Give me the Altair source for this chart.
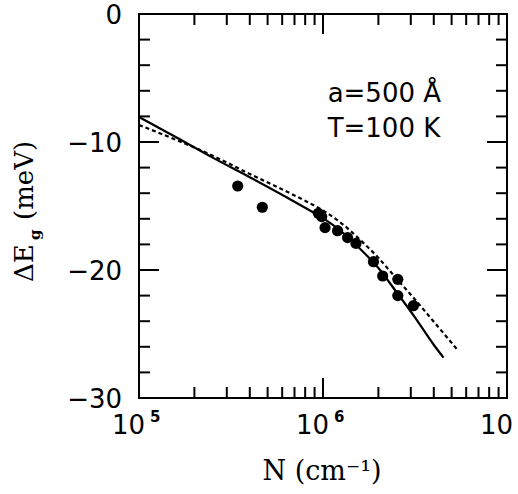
import altair as alt
import pandas as pd

# ---- data ----
N_solid = [1.0e5, 1.6e5, 2.5e5, 4.0e5, 6.3e5, 7.9e5, 1.0e6, 1.26e6, 1.58e6, 2.0e6, 2.5e6, 3.16e6, 3.98e6, 4.52e6]
E_solid = [-8.05, -9.65, -11.2, -12.75, -14.3, -15.1, -15.95, -17.0, -18.3, -19.85, -21.7, -23.7, -25.8, -26.85]

N_dash = [1.0e5, 1.6e5, 2.5e5, 4.0e5, 6.3e5, 7.9e5, 1.0e6, 1.26e6, 1.58e6, 2.0e6, 2.5e6, 3.16e6, 3.98e6, 5.32e6]
E_dash = [-8.67, -9.85, -11.05, -12.5, -13.85, -14.55, -15.35, -16.35, -17.6, -19.05, -20.65, -22.3, -24.0, -26.15]

N_pts = [3.44e5, 4.68e5, 9.43e5, 9.84e5, 1.026e6, 1.20e6, 1.36e6, 1.51e6, 1.88e6, 2.11e6, 2.55e6, 2.55e6, 3.10e6]
E_pts = [-13.44, -15.1, -15.57, -15.83, -16.69, -16.93, -17.47, -17.92, -19.35, -20.47, -20.73, -22.0, -22.79]

y_major = [-30, -20, -10, 0]
y_major_labels = ["\u221230", "\u221220", "\u221210", "0"]
y_minor = [-28, -26, -24, -22, -18, -16, -14, -12, -8, -6, -4, -2]
x_major = [1e5, 1e6, 1e7]
x_major_base = ["10", "10", "10"]
x_exp_N = [1e5, 1e6]
x_exp = ["5", "6"]
x_minor = [2e5, 3e5, 4e5, 5e5, 6e5, 7e5, 8e5, 9e5, 2e6, 3e6, 4e6, 5e6, 6e6, 7e6, 8e6, 9e6]

annot_N = [1.06e6, 1.06e6]
annot_E = [-6.85, -9.6]
annot_text = ["a=500 \u00c5", "T=100 K"]

x_title = "N (cm\u207b\u00b9)"

W, H = 368, 384

xs = alt.Scale(type="log", domain=[1e5, 1e7])
ys = alt.Scale(domain=[-30, 0])


def X(f="N"):
    return alt.X(f"{f}:Q", scale=xs, axis=None)


def Y(f="E"):
    return alt.Y(f"{f}:Q", scale=ys, axis=None)


df_solid = pd.DataFrame({"N": N_solid, "E": E_solid})
df_dash = pd.DataFrame({"N": N_dash, "E": E_dash})
df_pts = pd.DataFrame({"N": N_pts, "E": E_pts})
df_ymaj = pd.DataFrame({"E": y_major, "lab": y_major_labels})
df_ymin = pd.DataFrame({"E": y_minor})
df_xmaj = pd.DataFrame({"N": x_major, "base": x_major_base})
df_xexp = pd.DataFrame({"N": x_exp_N, "exp": x_exp})
df_xmin = pd.DataFrame({"N": x_minor})
df_ann = pd.DataFrame({"N": annot_N, "E": annot_E, "t": annot_text})

solid = alt.Chart(df_solid).mark_line(color="black", strokeWidth=2.2, interpolate="monotone").encode(x=X(), y=Y())
dashed = alt.Chart(df_dash).mark_line(color="black", strokeWidth=2.2, strokeDash=[4, 3], interpolate="monotone").encode(x=X(), y=Y())
points = alt.Chart(df_pts).mark_circle(color="black", size=125, opacity=1).encode(x=X(), y=Y())

rule = dict(color="black", strokeWidth=2)
L_MAJ, L_MIN = 20, 11

ticks = [
    alt.Chart(df_ymaj).mark_rule(**rule).encode(y=Y(), x=alt.value(0), x2=alt.value(L_MAJ)),
    alt.Chart(df_ymaj).mark_rule(**rule).encode(y=Y(), x=alt.value(W), x2=alt.value(W - L_MAJ)),
    alt.Chart(df_ymin).mark_rule(**rule).encode(y=Y(), x=alt.value(0), x2=alt.value(L_MIN)),
    alt.Chart(df_ymin).mark_rule(**rule).encode(y=Y(), x=alt.value(W), x2=alt.value(W - L_MIN)),
    alt.Chart(df_xmaj).mark_rule(**rule).encode(x=X(), y=alt.value(H), y2=alt.value(H - L_MAJ)),
    alt.Chart(df_xmaj).mark_rule(**rule).encode(x=X(), y=alt.value(0), y2=alt.value(L_MAJ)),
    alt.Chart(df_xmin).mark_rule(**rule).encode(x=X(), y=alt.value(H), y2=alt.value(H - L_MIN)),
    alt.Chart(df_xmin).mark_rule(**rule).encode(x=X(), y=alt.value(0), y2=alt.value(L_MIN)),
]

sans = "DejaVu Sans"
serif = "DejaVu Serif"

ylabels = alt.Chart(df_ymaj).mark_text(
    align="right", baseline="middle", font=sans, fontSize=26, color="black", dy=2
).encode(y=Y(), x=alt.value(-17), text="lab:N")

xbase = alt.Chart(df_xmaj).mark_text(
    align="right", baseline="middle", font=sans, fontSize=26, color="black", dx=6
).encode(x=X(), y=alt.value(H + 28), text="base:N")

xexp = alt.Chart(df_xexp).mark_text(
    align="left", baseline="middle", font=sans, fontSize=15, fontWeight="bold", color="black", dx=11
).encode(x=X(), y=alt.value(H + 19), text="exp:N")

annot = alt.Chart(df_ann).mark_text(
    align="left", baseline="alphabetic", font=sans, fontSize=26, color="black"
).encode(x=X(), y=Y(), text="t:N")

df_xt = pd.DataFrame({"t": [x_title]})
xtitle = alt.Chart(df_xt).mark_text(
    align="center", baseline="alphabetic", font=serif, fontSize=27, color="black"
).encode(x=alt.value(183), y=alt.value(466), text="t:N")

df_yt = pd.DataFrame({"a": ["\u0394E"], "g": ["g"], "m": ["(meV)"]})
yt1 = alt.Chart(df_yt).mark_text(
    align="left", baseline="alphabetic", angle=270, font=serif, fontSize=26, color="black"
).encode(x=alt.value(-106), y=alt.value(268), text="a:N")
yt2 = alt.Chart(df_yt).mark_text(
    align="left", baseline="alphabetic", angle=270, font=serif, fontSize=15, fontWeight="bold", color="black"
).encode(x=alt.value(-99), y=alt.value(226), text="g:N")
yt3 = alt.Chart(df_yt).mark_text(
    align="left", baseline="alphabetic", angle=270, font=serif, fontSize=26, color="black"
).encode(x=alt.value(-106), y=alt.value(206), text="m:N")

chart = alt.layer(
    *ticks, dashed, solid, points, ylabels, xbase, xexp, annot, xtitle, yt1, yt2, yt3
).properties(
    width=W,
    height=H,
    autosize=alt.AutoSizeParams(type="none"),
    padding={"left": 139, "top": 14, "right": 11, "bottom": 96},
    background="white",
).configure_view(stroke="black", strokeWidth=2)

chart.save("out.html", embed_options={"renderer": "svg", "actions": False})
